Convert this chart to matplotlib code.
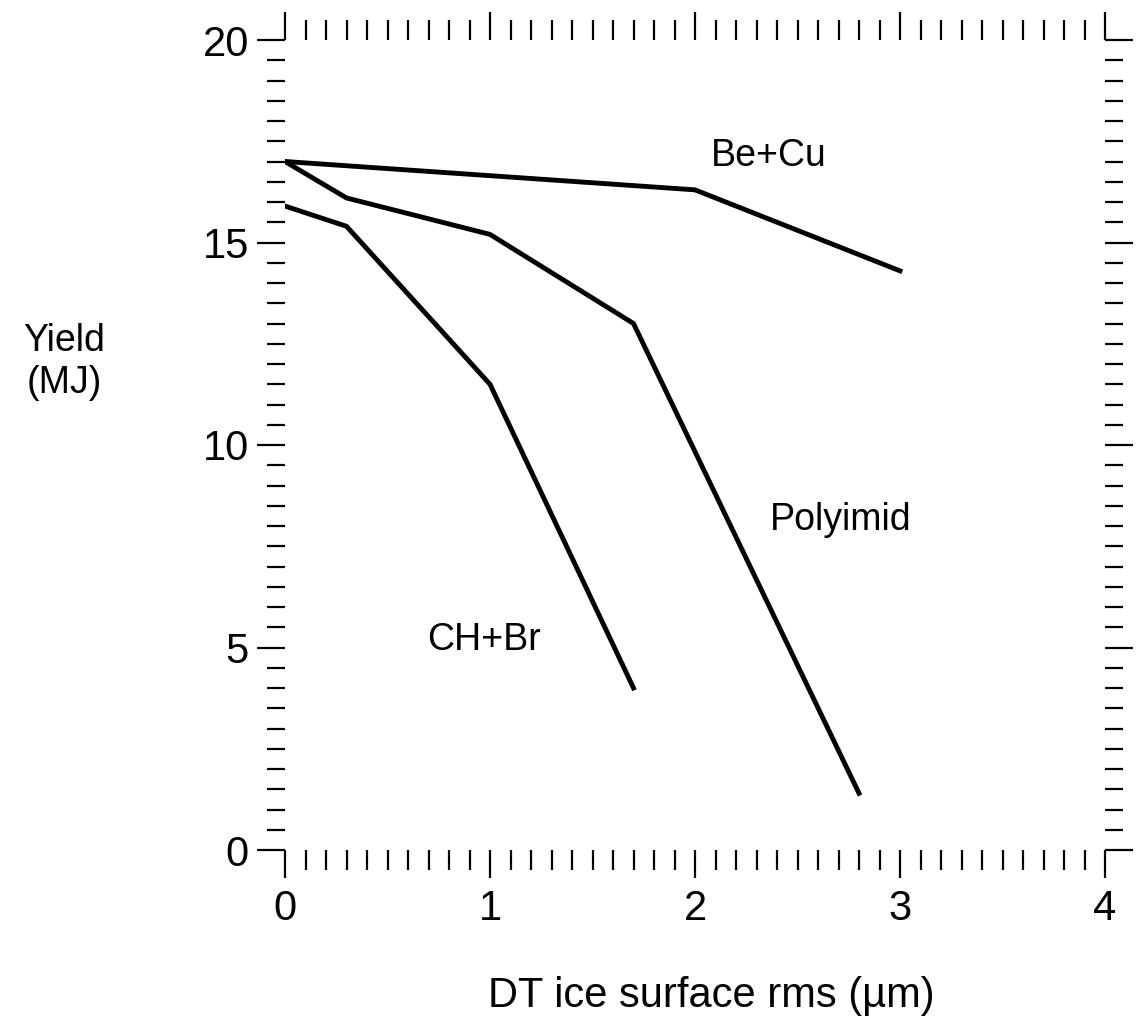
import matplotlib
matplotlib.use("Agg")
import matplotlib.pyplot as plt
from matplotlib.ticker import FixedLocator, FuncFormatter

plt.rcParams['font.family'] = ['Liberation Sans', 'DejaVu Sans']

# Data (DT ice surface rms in um, Yield in MJ)
becu_x = [0.0, 2.0, 3.0]
becu_y = [17.0, 16.3, 14.3]

poly_x = [0.0, 0.3, 1.0, 1.7, 2.8]
poly_y = [17.0, 16.1, 15.2, 13.0, 1.4]

chbr_x = [0.0, 0.3, 1.0, 1.7]
chbr_y = [15.9, 15.4, 11.5, 4.0]

series_labels = ["Be+Cu", "Polyimid", "CH+Br"]
label_pos_x = [2.36, 2.71, 0.97]
label_pos_y = [16.9, 7.9, 4.93]

x_major = [0, 1, 2, 3, 4]
y_major = [0, 5, 10, 15, 20]

W, H = 1142, 1023
fig = plt.figure(figsize=(W / 100, H / 100), dpi=100)
ax = fig.add_axes([285 / W, 1 - 850 / H, 820 / W, 810 / H])

for xs, ys in [(becu_x, becu_y), (poly_x, poly_y), (chbr_x, chbr_y)]:
    ax.plot(xs, ys, color='black', lw=3.5, solid_joinstyle='miter')

for lab, lx, ly in zip(series_labels, label_pos_x, label_pos_y):
    ax.text(lx, ly, lab, fontsize=27, ha='center', va='baseline')

ax.set_xlim(0, 4)
ax.set_ylim(0, 20)
for s in ax.spines.values():
    s.set_visible(False)

ax.xaxis.set_major_locator(FixedLocator(x_major))
ax.yaxis.set_major_locator(FixedLocator(y_major))
x_minor = [i / 10 for i in range(41) if i % 10 != 0]
y_minor = [i / 2 for i in range(41) if i % 10 != 0]
ax.xaxis.set_minor_locator(FixedLocator(x_minor))
ax.yaxis.set_minor_locator(FixedLocator(y_minor))
ax.xaxis.set_major_formatter(FuncFormatter(lambda v, p: f"{v:.0f}"))
ax.yaxis.set_major_formatter(FuncFormatter(lambda v, p: f"{v:.0f}"))

ax.tick_params(which='both', direction='out', top=True, right=True,
               bottom=True, left=True, width=1.6, color='black')
ax.tick_params(which='major', length=20, labelsize=30)
ax.tick_params(axis='x', which='major', pad=8)
ax.tick_params(axis='y', which='major', pad=6)
ax.tick_params(which='minor', length=8)

for t in ax.xaxis.get_minor_ticks(len(x_minor)):
    loc = t.get_loc()
    if abs(loc * 2 - round(loc * 2)) < 1e-6:
        t.tick1line.set_markersize(14.5)
        t.tick2line.set_markersize(14.5)
for t in ax.yaxis.get_minor_ticks(len(y_minor)):
    loc = t.get_loc()
    if abs(loc - round(loc)) < 1e-6:
        t.tick1line.set_markersize(13)
        t.tick2line.set_markersize(13)
    else:
        t.tick1line.set_markersize(8.5)
        t.tick2line.set_markersize(8.5)

fig.text(64 / W, 1 - 362 / H, "Yield\n(MJ)", fontsize=27, ha='center',
         va='center', multialignment='center', linespacing=1.2)
fig.text(711 / W, 1 - 1007 / H, "DT ice surface rms (\u00b5m)", fontsize=30,
         ha='center', va='baseline')

fig.savefig("out.png", dpi=100, facecolor='white')
